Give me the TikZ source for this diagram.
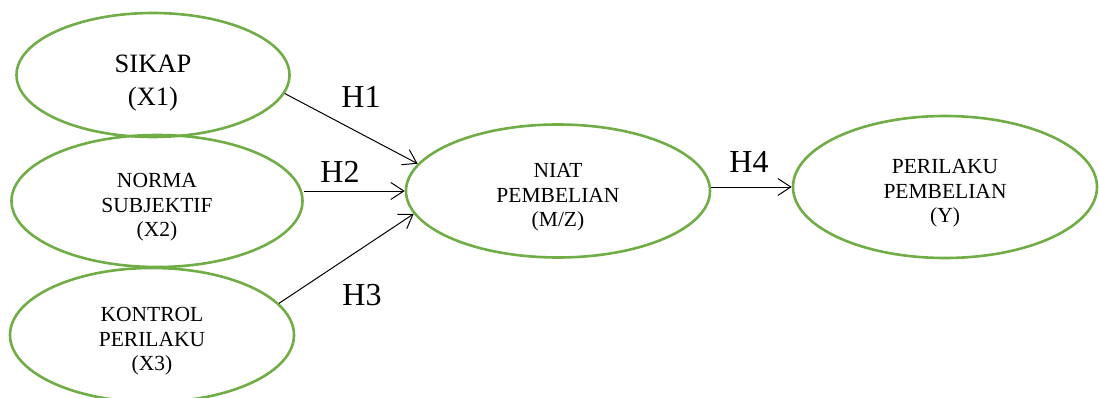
\documentclass[tikz,border=0pt]{standalone}
\usepackage{fontspec}
\setmainfont{Liberation Serif}
\usetikzlibrary{shapes.geometric,arrows.meta}
\definecolor{ovalgreen}{HTML}{70AD47}
\newcommand\toppad{\rule{0pt}{1.25em}}
\tikzset{
  oval/.style={ellipse, draw=ovalgreen, line width=2.6pt, inner sep=0pt, align=center},
  small/.style={font=\fontsize{21.5}{24.5}\selectfont},
  big/.style={font=\fontsize{26.5}{33}\selectfont},
  hlab/.style={font=\fontsize{32}{36}\selectfont, inner sep=0pt},
  conn/.style={-{Straight Barb[length=13pt,width=17pt,line width=1pt]}, line width=1pt, black},
}
\begin{document}
\begin{tikzpicture}[x=1pt,y=-1pt]
\useasboundingbox (0,0) rectangle (1099,398);
\node[oval, big, minimum width=273pt, minimum height=124pt] (sikap) at (153,75) {\toppad SIKAP\\(X1)};
\node[oval, small, minimum width=291pt, minimum height=132pt] (norma) at (157,201) {\toppad NORMA\\SUBJEKTIF\\(X2)};
\node[oval, small, minimum width=284pt, minimum height=134pt] (kontrol) at (152,335) {\toppad KONTROL\\PERILAKU\\(X3)};
\node[oval, small, minimum width=304pt, minimum height=133pt] (niat) at (558,191) {\toppad NIAT\\PEMBELIAN\\(M/Z)};
\node[oval, small, minimum width=304pt, minimum height=142pt] (per) at (945,187) {\toppad PERILAKU\\PEMBELIAN\\(Y)};
\draw[conn] (sikap.-8.7) -- (niat.169.5);
\draw[conn] (niat.west -| norma.east) -- (niat.west);
\draw[conn] (kontrol.14.8) -- (niat.189.7);
\draw[conn] (per.west -| niat.east) -- (per.west);
\node[hlab] (h1) at (361,97) {H1};
\node[hlab] (h2) at (340,172) {H2};
\node[hlab] (h3) at (362,295) {H3};
\node[hlab] (h4) at (749,162) {H4};
\end{tikzpicture}
\end{document}
